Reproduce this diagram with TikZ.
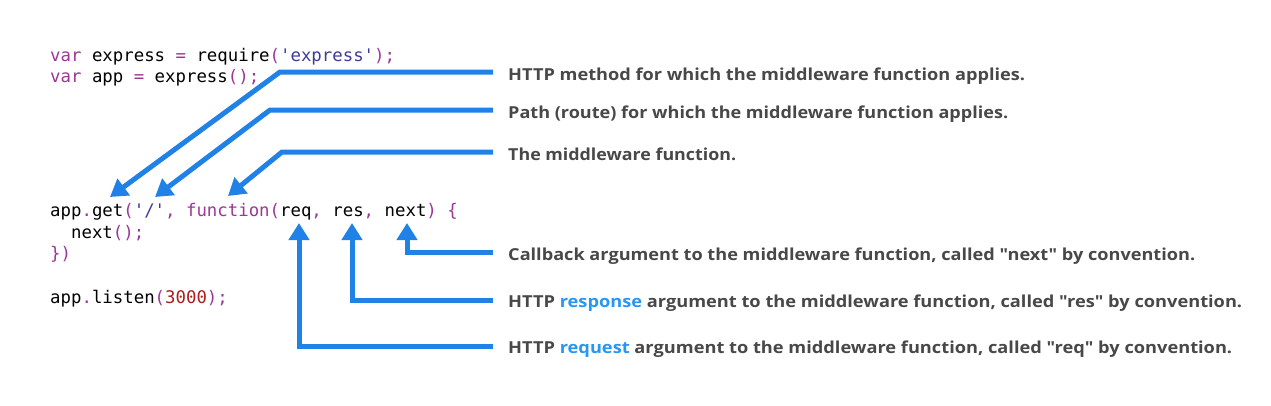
\documentclass[tikz,border=0pt]{standalone}
\usepackage{fontspec}
\usepackage{graphicx}
\usetikzlibrary{arrows.meta}
\newfontfamily\lblfont{Open Sans}[Ligatures=ResetAll]
\newfontfamily\codefont{DejaVu Sans Mono}
\definecolor{arrowblue}{RGB}{32,130,230}
\definecolor{kwcol}{RGB}{155,55,150}
\definecolor{strcol}{RGB}{62,60,150}
\definecolor{numcol}{RGB}{170,30,30}
\definecolor{lblcol}{RGB}{72,72,72}
\definecolor{hlblue}{RGB}{40,150,245}
\newcommand\kw[1]{\textcolor{kwcol}{#1}}
\newcommand\strv[1]{\textcolor{strcol}{#1}}
\newcommand\numv[1]{\textcolor{numcol}{#1}}
\newcommand\hl[1]{\textcolor{hlblue}{#1}}
\tikzset{
  codeline/.style={anchor=base west, inner sep=0pt, font=\codefont\fontsize{17.36pt}{20pt}\selectfont, text=black},
  lbl/.style={anchor=base west, inner sep=0pt, font=\lblfont\bfseries\fontsize{16.5pt}{20pt}\selectfont, text=lblcol},
  callout/.style={draw=arrowblue, line width=5pt, -{Triangle[length=17pt,width=20pt]}}
}
\begin{document}
\begin{tikzpicture}[x=1pt,y=-1pt]
\useasboundingbox[fill=white] (0,0) rectangle (1271,405);
% code
\node[codeline] (c1) at (50,61) {\kw{var} express \kw{=} require\kw{(}\strv{'express'}\kw{);}};
\node[codeline] (c2) at (50,82.5) {\kw{var} app \kw{=} express\kw{();}};
\node[codeline] (c3) at (50,216.5) {app\kw{.}get\kw{(}\strv{'/'}\kw{,} \kw{function(}req\kw{,} res\kw{,} next\kw{) \{}};
\node[codeline] (c4) at (50,238) {\phantom{xx}next\kw{();}};
\node[codeline] (c5) at (50,259.5) {\kw{\})}};
\node[codeline] (c6) at (50,303) {app\kw{.}listen\kw{(}\numv{3000}\kw{);}};
% labels
\node[lbl] (l1) at (508,80) {\resizebox{517pt}{\height}{HTTP method for which the middleware function applies.}};
\node[lbl] (l2) at (508,118) {\resizebox{500pt}{\height}{Path (route) for which the middleware function applies.}};
\node[lbl] (l3) at (508,160) {\resizebox{228pt}{\height}{The middleware function.}};
\node[lbl] (l4) at (508,260) {\resizebox{687pt}{\height}{Callback argument to the middleware function, called "next" by convention.}};
\node[lbl] (l5) at (508,307) {\resizebox{734pt}{\height}{HTTP \hl{response} argument to the middleware function, called "res" by convention.}};
\node[lbl] (l6) at (508,353.5) {\resizebox{724pt}{\height}{HTTP \hl{request} argument to the middleware function, called "req" by convention.}};
% connector ends
\coordinate (s1) at (493,72);
\coordinate (s2) at (493,110);
\coordinate (s3) at (493,152);
\coordinate (s4) at (493,252);
\coordinate (s5) at (493,300);
\coordinate (s6) at (493,346);
\coordinate (tmethod) at (110,197);
\coordinate (tpath) at (155,197);
\coordinate (tfunc) at (228,196);
\coordinate (tnext) at (407,223);
\coordinate (tres) at (352,223);
\coordinate (treq) at (299,223);
% connectors
\draw[callout] (s1) -- (280,72) -- (tmethod);
\draw[callout] (s2) -- (270,110) -- (tpath);
\draw[callout] (s3) -- (282,152) -- (tfunc);
\draw[callout] (s4) -- (tnext |- s4) -- (tnext);
\draw[callout] (s5) -- (tres |- s5) -- (tres);
\draw[callout] (s6) -- (treq |- s6) -- (treq);
\end{tikzpicture}
\end{document}
